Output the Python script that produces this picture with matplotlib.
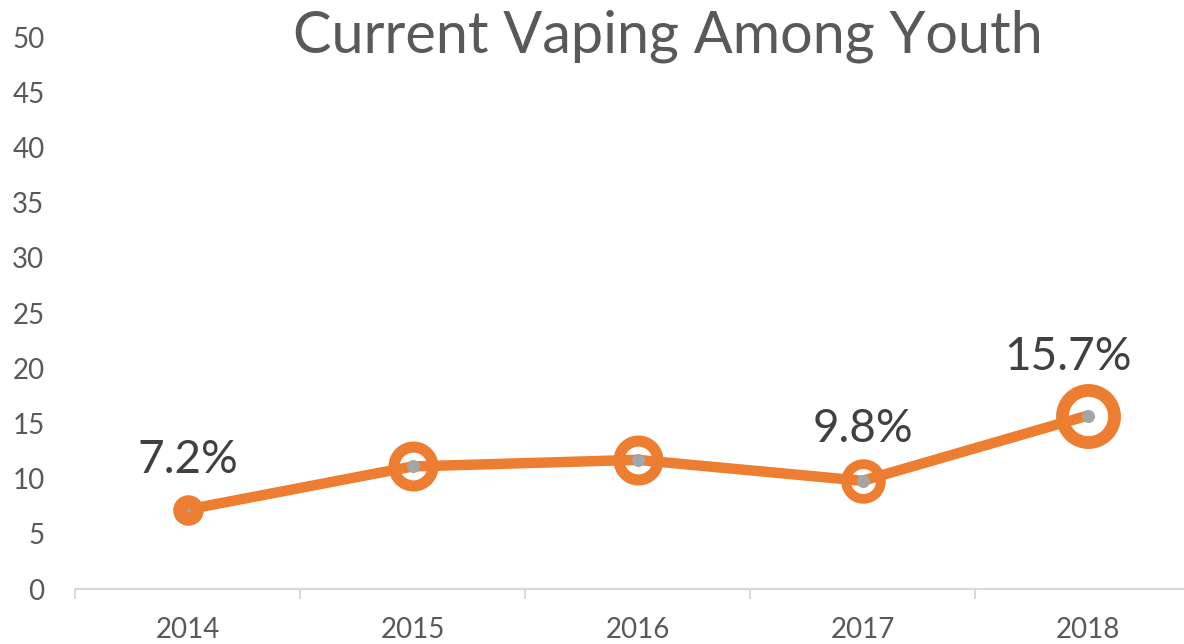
import numpy as np
import matplotlib.pyplot as plt

years = ['2014', '2015', '2016', '2017', '2018']
vaping = [7.2, 11.1, 11.7, 9.8, 15.7]
point_labels = ['7.2%', None, None, '9.8%', '15.7%']
y_ticks = list(range(0, 51, 5))

orange = '#ED7D31'
grey_dot = '#A5A5A5'
axis_grey = '#D9D9D9'
font = 'Lato'

# ring size (pt, to middle of the edge) and ring thickness (pt) for each point
ring_ms = [11, 28, 28, 25, 37.5]
ring_mew = [11, 8, 8, 7, 9.2]
dot_ms = [3, 9.4, 9.4, 9.4, 9.4]
label_off = [(0, 36), None, None, (0, 37), (-14, 42)]

plt.rcParams['font.family'] = [font, 'DejaVu Sans']

fig = plt.figure(figsize=(11.84, 6.44), dpi=100)
ax = fig.add_axes([75/1184, 1 - 589/644, 1125/1184, 552/644])

x = np.arange(len(years))
ax.plot(x, vaping, color=orange, lw=7.5, solid_capstyle='round', zorder=2)
for i in range(len(years)):
    ax.plot(x[i], vaping[i], 'o', ms=ring_ms[i], mew=ring_mew[i],
            mfc='none', mec=orange, zorder=3)
    ax.plot(x[i], vaping[i], 'o', ms=dot_ms[i], mew=0, mfc=grey_dot, zorder=4)
    if point_labels[i]:
        ax.annotate(point_labels[i], (x[i], vaping[i]), xytext=label_off[i],
                    textcoords='offset points', ha='center', va='center',
                    fontsize=33, color='#404040')

ax.set_xlim(-0.5, 4.5)
ax.set_ylim(0, 50)
ax.set_yticks(y_ticks)
ax.set_xticks(x)
ax.set_xticklabels(years)
ax.set_xticks(np.arange(-0.5, 4.6, 1), minor=True)

for s in ['top', 'right', 'left']:
    ax.spines[s].set_visible(False)
ax.spines['bottom'].set_color(axis_grey)
ax.spines['bottom'].set_linewidth(1.5)

ax.tick_params(axis='y', length=0, pad=22, labelsize=20, labelcolor='#595959')
ax.tick_params(axis='x', which='major', length=0, pad=20, labelsize=20,
               labelcolor='#595959')
ax.tick_params(axis='x', which='minor', length=7, width=1.5, color=axis_grey)

fig.text(668/1184, 1 - 36/644, 'Current Vaping Among Youth', ha='center',
         va='center', fontsize=41.5, color='#595959')

fig.savefig('out.png', dpi=100)
